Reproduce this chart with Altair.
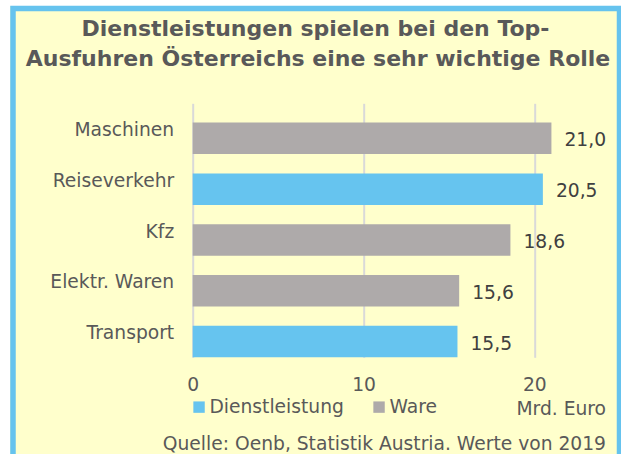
import altair as alt
import pandas as pd

# ---- data ----
categories = ["Maschinen", "Reiseverkehr", "Kfz", "Elektr. Waren\u00a0", "Transport"]
values = [21.0, 20.5, 18.6, 15.6, 15.5]
types = ["Ware", "Dienstleistung", "Ware", "Ware", "Dienstleistung"]
type_order = ["Dienstleistung", "Ware"]
type_colors = ["#66C4EF", "#AEAAAA"]
title_lines = ["Dienstleistungen spielen bei den Top-",
               "Ausfuhren Österreichs eine sehr wichtige Rolle"]
x_ticks = [0, 10, 20]
unit_label = "Mrd. Euro"
source_text = "Quelle: Oenb, Statistik Austria. Werte von 2019"

# ---- style ----
FONT = "DejaVu Sans"
TEXT = "#595959"
BG = "#FFFFCC"
BORDER = "#66C3EE"
PL, PT = 192.7, 103.3           # plot origin in the page
W, H = 375.8, 254               # plot size
FS = 18.7

df = pd.DataFrame({"Kategorie": categories, "Wert": values, "Typ": types})
one = pd.DataFrame({"k": [0]})

base = alt.Chart(df)

x_enc = alt.X("Wert:Q",
              scale=alt.Scale(domain=[0, 22], nice=False, zero=True),
              axis=alt.Axis(values=x_ticks, title=None, domain=False, ticks=False,
                            grid=True, gridColor="#D9D9D9", gridWidth=2,
                            labelFontSize=FS, labelPadding=18, labelColor=TEXT,
                            labelFont=FONT, format="d", labelFlush=False))
y_enc = alt.Y("Kategorie:N", sort=categories,
              scale=alt.Scale(paddingInner=0.38, paddingOuter=0.19, align=1),
              axis=alt.Axis(title=None, domain=False, ticks=False, grid=False,
                            labelPadding=19, labelOffset=-8.3, labelFontSize=FS,
                            labelColor=TEXT, labelFont=FONT, labelLimit=300))

white_edge = alt.Chart(one).mark_rect(fill=None, stroke="white", strokeWidth=20).encode(
    x=alt.value(0 - PL), x2=alt.value(800 - PL),
    y=alt.value(-4 - PT), y2=alt.value(800 - PT))
blue_edge = alt.Chart(one).mark_rect(fill=None, stroke=BORDER, strokeWidth=5.5).encode(
    x=alt.value(13 - PL), x2=alt.value(619.5 - PL),
    y=alt.value(8.5 - PT), y2=alt.value(480 - PT))

bars = base.mark_bar().encode(
    x=x_enc, y=y_enc,
    color=alt.Color("Typ:N",
                    scale=alt.Scale(domain=type_order, range=type_colors),
                    legend=alt.Legend(title=None, orient="none", legendX=-3, legendY=294,
                                      direction="horizontal", symbolType="square",
                                      symbolSize=130, symbolStrokeWidth=0,
                                      labelFontSize=FS, labelColor=TEXT, labelFont=FONT,
                                      columnPadding=25, labelOffset=1, padding=0)))

labels = base.transform_calculate(
    lab="replace(format(datum.Wert, '.1f'), '.', ',')"
).mark_text(align="left", baseline="middle", dx=13, dy=2, fontSize=FS,
            color="#404040", font=FONT).encode(
    x="Wert:Q", y=alt.Y("Kategorie:N", sort=categories), text="lab:N")

t1 = alt.Chart(one).mark_text(align="center", baseline="middle", fontSize=22,
                              fontWeight="bold", color=TEXT, font=FONT,
                              text=title_lines[0]).encode(
    x=alt.value(315.5 - PL), y=alt.value(28.5 - PT))
t2 = alt.Chart(one).mark_text(align="center", baseline="middle", fontSize=22,
                              fontWeight="bold", color=TEXT, font=FONT,
                              text=title_lines[1]).encode(
    x=alt.value(318 - PL), y=alt.value(58.5 - PT))
unit = alt.Chart(one).mark_text(align="right", baseline="middle", fontSize=FS,
                                color=TEXT, font=FONT, text=unit_label).encode(
    x=alt.value(606 - PL), y=alt.value(409 - PT))
source = alt.Chart(one).mark_text(align="right", baseline="middle", fontSize=FS,
                                  color=TEXT, font=FONT, text=source_text).encode(
    x=alt.value(606 - PL), y=alt.value(444 - PT))

chart = alt.layer(white_edge, blue_edge, bars, labels, t1, t2, unit, source).properties(
    width=W, height=H,
    autosize=alt.AutoSizeParams(type="none"),
    padding={"left": PL, "top": PT, "right": 621 - PL - W, "bottom": 454 - PT - H},
    background=BG,
).configure_view(stroke=None)

chart.save("out.html", embed_options={"renderer": "svg", "actions": False})
